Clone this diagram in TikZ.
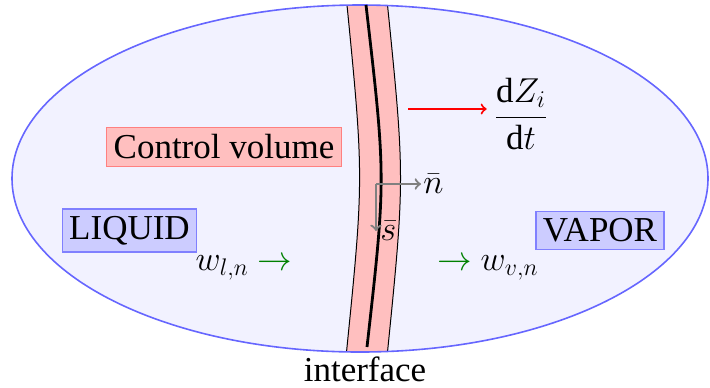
\documentclass[tikz,border=0pt]{standalone}
\usepackage{fontspec}
\setmainfont{Liberation Serif}
\usetikzlibrary{positioning}
\begin{document}
\begin{tikzpicture}[x=0.5pt, y=-0.5pt, font=\fontsize{17.5}{21}\selectfont,
  phase/.style={draw=blue!50, fill=blue!20, line width=0.6pt, inner sep=3.5pt},
  cvbox/.style={draw=red!50, fill=red!25, line width=0.8pt, inner sep=3.5pt},
  vec/.style={gray, line width=1.1pt, ->}]
\useasboundingbox (0,0) rectangle (710,387);
\fill[blue!5] (360,178.5) ellipse [x radius=348, y radius=173.5];
\begin{scope}
\clip (360,178.5) ellipse [x radius=348, y radius=173.5];
\fill[red!25] (346.5,0) .. controls (364,178) .. (346,357) -- (387,357) .. controls (405,178) .. (387,0) -- cycle;
\draw[line width=0.5pt] (346.5,0) .. controls (364,178) .. (346,357);
\draw[line width=0.5pt] (387,0) .. controls (405,178) .. (387,357);
\end{scope}
\draw[blue!60, line width=0.8pt] (360,178.5) ellipse [x radius=348, y radius=173.5];
\draw[line width=1.4pt] (366,5) .. controls (386,178) .. (367,347);

\node[cvbox] (cv) at (224,147) {Control volume};
\node[phase] (liq) at (129.5,230.5) {LIQUID};
\node[phase] (vap) at (600,230.5) {VAPOR};
\node (wl) at (244,268) {$w_{l,n}$ \textcolor{green!50!black}{$\rightarrow$}};
\node (wv) at (488,268) {\textcolor{green!50!black}{$\rightarrow$} $w_{v,n}$};

\node (dz) at (521,114) {$\displaystyle\frac{\mathrm{d}Z_i}{\mathrm{d}t}$};
\coordinate (rs) at (408,109);
\draw[red, line width=1pt, ->] (rs) -- (rs -| dz.west);

\coordinate (o) at (376,184);
\node[anchor=west, inner sep=1pt] (nb) at (421,184) {$\bar n$};
\draw[vec] (o) -- (o -| nb.west);
\coordinate (st) at (376,231);
\node[anchor=west, inner sep=1pt] (sb) at (378,231) {$\bar s$};
\draw[vec] (o) -- (st);

\node[inner sep=1pt] (intf) at (365,369) {interface};
\end{tikzpicture}
\end{document}
